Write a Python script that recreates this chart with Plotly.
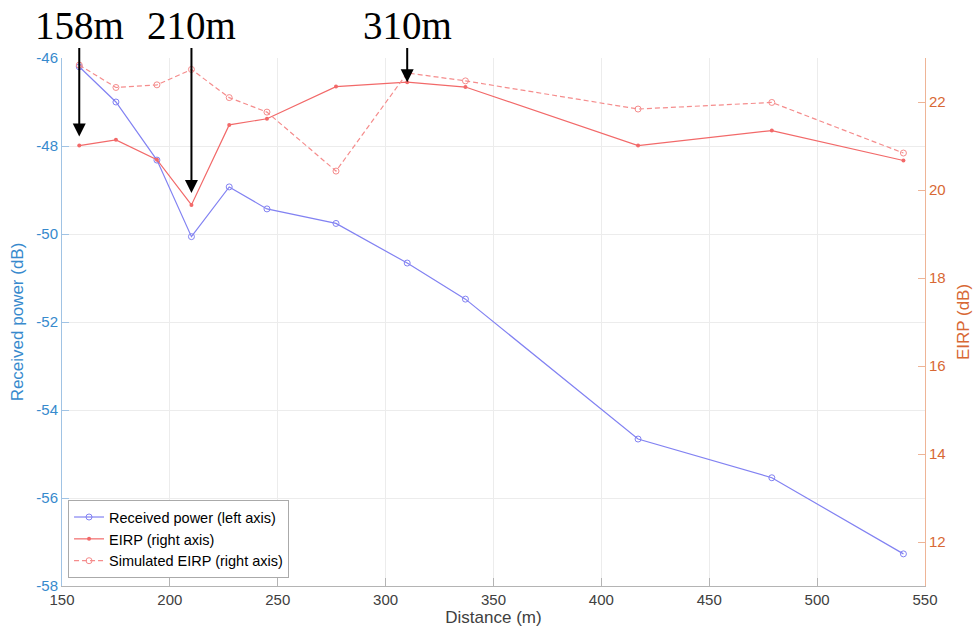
import plotly.graph_objects as go

# Measurement distances (m)
distance = [158, 175, 194, 210, 227.5, 245, 277, 310, 337, 417, 479, 540]
# Received power, left axis (dB)
received_power = [-46.20, -47.00, -48.32, -50.06, -48.93, -49.43, -49.76, -50.66, -51.48, -54.66, -55.54, -57.27]
# Measured EIRP, right axis (dB)
eirp = [21.01, 21.14, 20.69, 19.66, 21.48, 21.62, 22.35, 22.45, 22.34, 21.01, 21.35, 20.67]
# Simulated EIRP, right axis (dB)
sim_eirp = [22.84, 22.33, 22.39, 22.74, 22.10, 21.77, 20.43, 22.66, 22.48, 21.84, 21.99, 20.84]

# Distances called out with arrows
callout_distances = [158, 210, 310]
callout_labels = ["158m", "210m", "310m"]
callout_standoff = [9, 12, 0]

x_ticks = [150, 200, 250, 300, 350, 400, 450, 500, 550]
left_ticks = [-58, -56, -54, -52, -50, -48, -46]
right_ticks = [12, 14, 16, 18, 20, 22]

BLUE_AX = "rgb(55,138,205)"
BLUE_AX_LINE = "rgb(160,195,228)"
ORANGE_AX = "rgb(216,104,52)"
ORANGE_AX_LINE = "rgb(238,180,150)"
GRID = "rgb(236,236,236)"
SANS = "Liberation Sans, Arial, Helvetica, sans-serif"

fig = go.Figure()

fig.add_trace(go.Scatter(
    x=distance, y=received_power, name="Received power (left axis)",
    mode="lines+markers",
    line=dict(color="rgb(130,130,242)", width=1.2),
    marker=dict(symbol="circle-open", size=6, color="rgb(130,130,242)", line=dict(width=1)),
    yaxis="y",
))
fig.add_trace(go.Scatter(
    x=distance, y=eirp, name="EIRP (right axis)",
    mode="lines+markers",
    line=dict(color="rgb(242,105,105)", width=1.2),
    marker=dict(symbol="circle", size=4, color="rgb(242,105,105)"),
    yaxis="y2",
))
fig.add_trace(go.Scatter(
    x=distance, y=sim_eirp, name="Simulated EIRP (right axis)",
    mode="lines+markers",
    line=dict(color="rgb(245,140,140)", width=1.2, dash="5px,3px"),
    marker=dict(symbol="circle-open", size=6, color="rgb(245,140,140)", line=dict(width=1)),
    yaxis="y2",
))

# Arrow callouts pointing at the measured EIRP curve
for d, label, so in zip(callout_distances, callout_labels, callout_standoff):
    i = distance.index(d)
    fig.add_annotation(
        x=d, y=eirp[i], xref="x", yref="y2",
        text=label, showarrow=True,
        ax=d, ay=23.75, axref="x", ayref="y2",
        arrowhead=2, arrowsize=1.3, arrowwidth=2, arrowcolor="black",
        standoff=so,
        font=dict(family="Liberation Serif, Times New Roman, serif", size=39, color="black"),
    )

fig.update_layout(
    width=977, height=639,
    margin=dict(l=62, r=52, t=58, b=53),
    paper_bgcolor="white", plot_bgcolor="white",
    font=dict(family=SANS, size=15, color="rgb(64,64,64)"),
    showlegend=True,
    legend=dict(
        x=0.007, y=0.015, xanchor="left", yanchor="bottom",
        bgcolor="white", bordercolor="rgb(170,170,170)", borderwidth=1,
        font=dict(family=SANS, size=14.5, color="black"),
        itemwidth=30, tracegroupgap=0,
    ),
    xaxis=dict(
        range=[150, 550], tickvals=x_ticks,
        showgrid=True, gridcolor=GRID, zeroline=False,
        showline=True, linecolor="rgb(180,180,180)", linewidth=1, mirror=False,
        ticks="inside", ticklen=8, tickcolor="rgb(180,180,180)",
        tickfont=dict(size=15, color="rgb(64,64,64)"),
        title=dict(text="Distance (m)", font=dict(size=17, color="rgb(64,64,64)"), standoff=4),
        automargin=False,
    ),
    yaxis=dict(
        range=[-58, -46], tickvals=left_ticks, ticktext=[str(v) for v in left_ticks],
        showgrid=True, gridcolor=GRID, zeroline=False,
        showline=True, linecolor=BLUE_AX_LINE, linewidth=1,
        ticks="inside", ticklen=7, tickcolor=BLUE_AX_LINE,
        tickfont=dict(size=15, color=BLUE_AX),
        title=dict(text="Received power (dB)", font=dict(size=17, color=BLUE_AX), standoff=8),
        automargin=False,
    ),
    yaxis2=dict(
        range=[11, 23], tickvals=right_ticks,
        overlaying="y", side="right", anchor="x",
        showgrid=False, zeroline=False,
        showline=True, linecolor=ORANGE_AX_LINE, linewidth=1,
        ticks="inside", ticklen=7, tickcolor=ORANGE_AX_LINE,
        tickfont=dict(size=15, color=ORANGE_AX),
        title=dict(text="EIRP (dB)", font=dict(size=17, color=ORANGE_AX), standoff=12),
        automargin=False,
    ),
)

fig.write_html("out.html")
